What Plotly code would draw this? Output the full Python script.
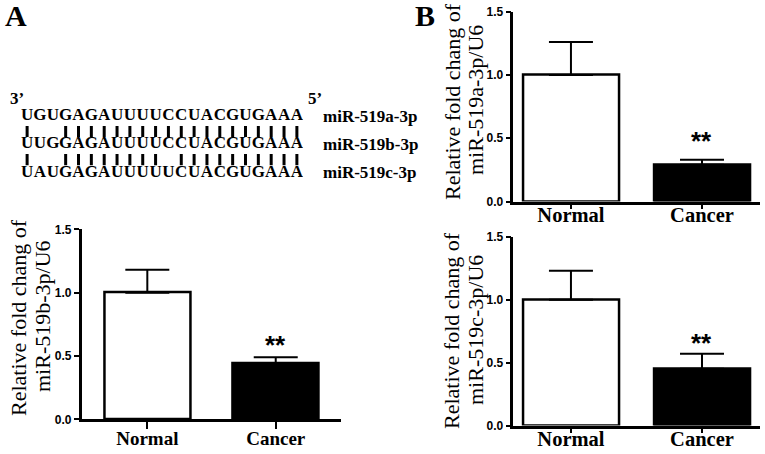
import plotly.graph_objects as go

# ---- data ----
seqs = ["UGUGAGAUUUUCCUACGUGAAA",
        "UUGGAGAUUUUCCUACGUGAAA",
        "UAUGAGAUUUUUCUACGUGAAA"]
seq_names = ["miR-519a-3p", "miR-519b-3p", "miR-519c-3p"]

groups = ["Normal", "Cancer"]
sig = ["", "**"]

b_mean = [1.0, 0.44]
b_err = [0.18, 0.05]
a_mean = [1.0, 0.29]
a_err = [0.26, 0.04]
c_mean = [1.0, 0.45]
c_err = [0.23, 0.12]

W, H = 765, 454
SERIF = "Liberation Serif"
SANS = "Liberation Sans"


def px_x(p):
    return p / W


def px_y(p):
    return 1 - p / H


def note(x, y, text, size, family=SERIF, weight="normal", angle=0, xanchor="center"):
    fig.add_annotation(x=px_x(x), y=px_y(y), xref="paper", yref="paper",
                       text=text, showarrow=False, textangle=angle, xanchor=xanchor,
                       yanchor="middle",
                       font=dict(family=family, size=size, color="black", weight=weight))


fig = go.Figure()

# mean, err, axes, bar width, gap of the stars above the error cap
panels = [
    (b_mean, b_err, "x", "y", 0.67, -0.039),
    (a_mean, a_err, "x2", "y2", 0.733, 0.015),
    (c_mean, c_err, "x3", "y3", 0.733, -0.048),
]

for mean, err, xa, ya, bw, gap in panels:
    fig.add_trace(go.Bar(
        x=[0, 1], y=mean, xaxis=xa, yaxis=ya, width=bw,
        marker=dict(color=["white", "black"], line=dict(color="black", width=2.5)),
        error_y=dict(type="data", symmetric=False, array=err, arrayminus=[0, 0],
                     color="black", thickness=2, width=22),
        showlegend=False, hoverinfo="skip",
    ))
    for i, s in enumerate(sig):
        if s:
            fig.add_annotation(x=i, y=mean[i] + err[i] + gap, xref=xa, yref=ya,
                               text=s, showarrow=False, yanchor="bottom",
                               font=dict(family=SANS, size=26, color="black", weight="bold"))

# sequence alignment
for r, s in enumerate(seqs):
    fig.add_trace(go.Scatter(
        x=list(range(len(s))), y=[2 * r] * len(s), text=list(s),
        mode="text", xaxis="x4", yaxis="y4",
        textfont=dict(family=SERIF, size=17, color="black", weight="bold"),
        showlegend=False, hoverinfo="skip",
    ))
for r in range(len(seqs) - 1):
    idx = [i for i, (p, q) in enumerate(zip(seqs[r], seqs[r + 1])) if p == q]
    fig.add_trace(go.Scatter(
        x=idx, y=[2 * r + 1.1] * len(idx), mode="markers", xaxis="x4", yaxis="y4",
        marker=dict(symbol="line-ns", size=8, line=dict(width=3, color="black")),
        showlegend=False, hoverinfo="skip",
    ))
for r, name in enumerate(seq_names):
    note(321, 116 + 28.2 * r, name, 17, weight="bold", xanchor="left")
note(17, 98, "3’", 17, weight="bold")
note(315, 98, "5’", 17, weight="bold")

# panel letters
note(16, 15, "A", 30, weight="bold")
note(425, 15, "B", 30, weight="bold")

# y titles
titles = [
    ((18, 318), (42, 316), "miR-519b-3p/U6"),
    ((453, 102), (476, 100), "miR-519a-3p/U6"),
    ((451, 331), (475, 330), "miR-519c-3p/U6"),
]
for p1, p2, t2 in titles:
    note(p1[0], p1[1], "Relative fold chang of", 22, angle=-90)
    note(p2[0], p2[1], t2, 22, angle=-90)


def yax(domain, anchor):
    return dict(domain=domain, range=[0, 1.5], anchor=anchor, automargin=False,
                tickvals=[0, 0.5, 1.0, 1.5], ticktext=["0.0", "0.5", "1.0", "1.5"],
                showgrid=False, zeroline=False,
                showline=True, linewidth=2.5, linecolor="black", ticks="outside",
                ticklen=5, tickwidth=2, tickcolor="black",
                tickfont=dict(family=SANS, size=12, color="black", weight="bold"))


def xax(domain, rng, anchor, size, tlen, stand):
    return dict(domain=domain, range=rng, anchor=anchor, automargin=False,
                tickvals=[0, 1], ticktext=groups, showgrid=False,
                zeroline=False, showline=True, linewidth=2.5, linecolor="black",
                ticks="outside", ticklen=tlen, tickwidth=2, tickcolor="black",
                ticklabelstandoff=stand,
                tickfont=dict(family=SERIF, size=size, color="black", weight="bold"))


fig.update_layout(
    width=W, height=H,
    margin=dict(l=0, r=0, t=0, b=0, autoexpand=False),
    paper_bgcolor="white", plot_bgcolor="white",
    bargap=0,
    xaxis=xax([px_x(81.7), px_x(340.7)], [-0.511, 1.506], "y", 19, 7, -7),
    yaxis=yax([px_y(419.3), px_y(229.3)], "x"),
    xaxis2=xax([px_x(513.3), px_x(759.5)], [-0.44, 1.439], "y2", 20.5, 5, -12),
    yaxis2=yax([px_y(201.5), px_y(11.7)], "x2"),
    xaxis3=xax([px_x(513.3), px_x(759.5)], [-0.44, 1.439], "y3", 20.5, 5, -12),
    yaxis3=yax([px_y(425.5), px_y(236.7)], "x3"),
    xaxis4=dict(domain=[px_x(20.7), px_x(303.3)], range=[-0.5, 21.5], visible=False,
                anchor="y4"),
    yaxis4=dict(domain=[px_y(179.3), px_y(109)], range=[4.5, -0.5], visible=False,
                anchor="x4"),
)

# drop the default 8px body margin so the figure fills the window exactly
fig.write_html("out.html", config={"displayModeBar": False},
               post_script="document.body.style.margin = '0';")
